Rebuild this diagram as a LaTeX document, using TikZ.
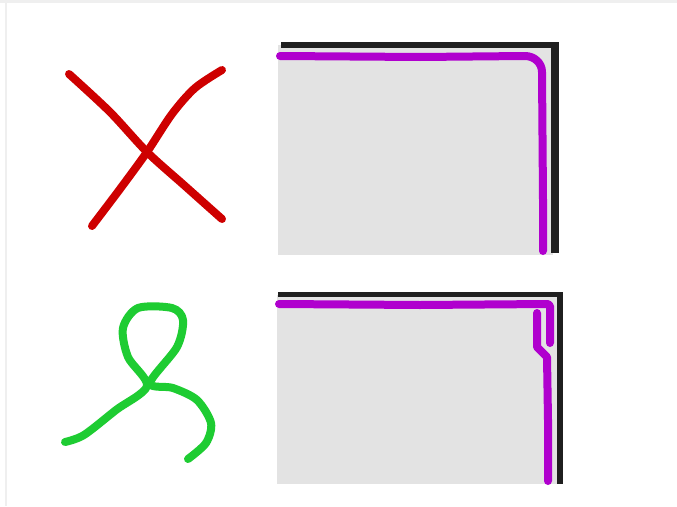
\documentclass[tikz,border=0pt]{standalone}
\usepackage{tikz}
\usepackage{xcolor}
\usetikzlibrary{calc}

\definecolor{frame}{RGB}{239,239,239}
\definecolor{panel}{RGB}{227,227,227}
\definecolor{pen}{RGB}{176,0,206}
\definecolor{badmark}{RGB}{206,0,0}
\definecolor{goodmark}{RGB}{30,204,50}

\tikzset{
  stroke/.style={line width=8pt, line cap=round, line join=round},
  edge/.style={fill=black!88}
}

\begin{document}
\begin{tikzpicture}[x=1pt, y=-1pt]
            \useasboundingbox (0,0) rectangle (677,506);
            \fill[white] (0,0) rectangle (677,506);
            \fill[frame] (0,0) rectangle (677,3);
            \fill[frame] (5,0) rectangle (7,506);
            % top panel
            \fill[panel] (278,45) rectangle (553,255);
            \fill[edge] (281,42) rectangle (559,48);
            \fill[edge] (551,42) rectangle (559,253);
            \draw[stroke, pen] (280,56) -- (420,57) -- (525,56)
                to[out=0, in=90] (542,72) -- (543,200) -- (543,251);
            % bottom panel
            \fill[panel] (277,295) rectangle (557,484);
            \fill[edge] (278,292) rectangle (563,297);
            \fill[edge] (557,292) rectangle (563,484);
            \draw[stroke, pen] (279,304) -- (420,305) -- (548,304)
                -- (550,306) -- (550,343);
            \draw[stroke, pen] (537,313) -- (537,347) -- (547,357) -- (548,420) -- (548,481);
            % marks
            \draw[stroke, badmark] plot[smooth] coordinates {(69,74) (110,112) (147,152) (185,186) (222,219)};
            \draw[stroke, badmark] plot[smooth] coordinates {(92,226) (120,189) (147,152) (172,114) (195,88) (222,70)};
            \draw[stroke, goodmark] plot[smooth] coordinates {(65,442) (84,435) (116,410) (147,386)
                (128,357) (123,328) (138,308) (172,308) (183,320) (177,347) (150,383)
                (173,388) (197,400) (211,423) (206,443) (188,459)};
        \end{tikzpicture}
\end{document}
